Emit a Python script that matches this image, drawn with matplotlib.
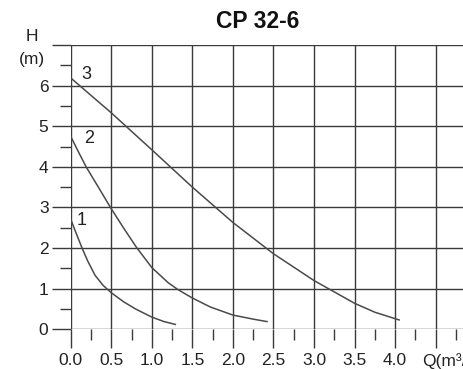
import numpy as np
import matplotlib
matplotlib.use('Agg')
import matplotlib.pyplot as plt
from matplotlib.ticker import MultipleLocator
import matplotlib.transforms as mtransforms

plt.rcParams['font.family'] = ['Liberation Sans', 'DejaVu Sans']

# pump curves, flow Q (m3/h) vs head H (m)
q1 = [0.0, 0.07, 0.14, 0.21, 0.3, 0.4, 0.5, 0.65, 0.8, 1.0, 1.15, 1.29]
h1 = [2.71, 2.35, 2.0, 1.68, 1.33, 1.08, 0.90, 0.68, 0.50, 0.30, 0.19, 0.12]

q2 = [0.0, 0.1, 0.19, 0.35, 0.49, 0.65, 0.81, 1.0, 1.2, 1.32, 1.5, 1.72, 2.0, 2.25, 2.42]
h2 = [4.75, 4.35, 4.0, 3.47, 3.0, 2.5, 2.02, 1.52, 1.15, 0.98, 0.77, 0.55, 0.35, 0.25, 0.19]

q3 = [0.0, 0.5, 1.0, 1.5, 2.0, 2.5, 3.0, 3.5, 3.75, 4.05]
h3 = [6.19, 5.33, 4.42, 3.5, 2.63, 1.86, 1.2, 0.64, 0.42, 0.23]

speeds = ['1', '2', '3']
label_pos = [(0.136, 2.68), (0.23, 4.69), (0.197, 6.27)]

xticks = [0.0, 0.5, 1.0, 1.5, 2.0, 2.5, 3.0, 3.5, 4.0]
yticks = [0, 1, 2, 3, 4, 5, 6]

fig = plt.figure(figsize=(4.64, 3.69), dpi=100)
ax = fig.add_axes([0.1524, 0.1076, 0.874, 0.7704])

grid_c = '#3a3a3a'
curve_c = '#4a4a4a'
text_c = '#222222'

for q, h in [(q1, h1), (q2, h2), (q3, h3)]:
    ax.plot(q, h, color=curve_c, lw=1.1, solid_joinstyle='round', zorder=3)

for s, (x, y) in zip(speeds, label_pos):
    ax.text(x, y, s, fontsize=13, color=text_c, ha='center', va='center')

ax.set_xlim(0, 5)
ax.set_ylim(0, 7)
ax.xaxis.set_minor_locator(MultipleLocator(0.25))
ax.yaxis.set_minor_locator(MultipleLocator(0.5))
ax.grid(True, which='major', color=grid_c, lw=1.0)
for sp in ax.spines.values():
    sp.set_visible(False)

ax.tick_params(which='major', length=14, width=1.0, color=grid_c, labelsize=12.5,
               labelcolor=text_c)
ax.tick_params(which='minor', length=8, width=1.0, color=grid_c)
ax.tick_params(axis='y', which='major', pad=2)
ax.tick_params(axis='x', which='major', pad=3)

ax.set_xticks(np.arange(0, 5.01, 0.5))
ax.set_xticklabels([f'{v:.1f}' for v in xticks] + ['', ''])
ax.set_yticks(np.arange(0, 7.01, 1))
ax.set_yticklabels([str(v) for v in yticks] + [''])

trans = mtransforms.blended_transform_factory(ax.transData, ax.transAxes)
ax.text(4.33, -0.112, 'Q(m³/h)', transform=trans, fontsize=12.5, color=text_c,
        ha='left', va='center')
fig.text(31.7 / 464, 1 - 36.7 / 369, 'H', fontsize=12.5, color=text_c, ha='center', va='center')
fig.text(31.7 / 464, 1 - 59.3 / 369, '(m)', fontsize=12.5, color=text_c, ha='center', va='center')
fig.text(258 / 464, 1 - 22 / 369, 'CP 32-6', fontsize=16.5, fontweight='bold', color='#111111',
         ha='center', va='center')

fig.savefig('out.png', dpi=100)
